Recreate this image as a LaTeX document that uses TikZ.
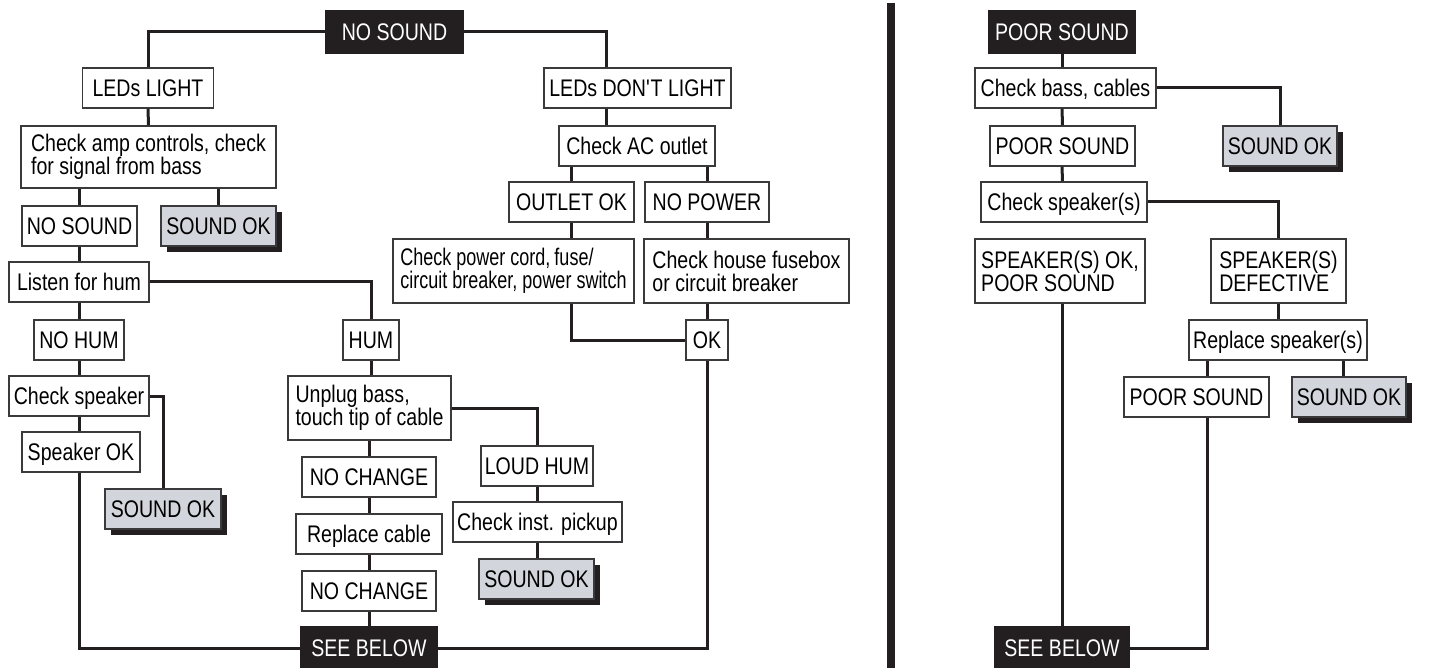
\documentclass[tikz,border=0pt]{standalone}
\usepackage{fontspec}
\setmainfont{Liberation Sans}[FakeStretch=0.815]
\newfontfamily\narrowfont{Liberation Sans}[FakeStretch=0.75]
\usetikzlibrary{shadows}
\definecolor{ink}{HTML}{231F20}
\definecolor{edge}{HTML}{3A3A3C}
\definecolor{okgray}{HTML}{D2D5DC}

\begin{document}
\begin{tikzpicture}[x=1pt, y=-1pt,
    base/.style={draw=edge, line width=1.5pt, inner sep=0pt, font=\fontsize{24}{23}\selectfont},
    box/.style={base, fill=white, minimum height=40pt, text height=17.2pt, text depth=0pt},
    tall/.style={base, fill=white, align=left, minimum height=64pt},
    dark/.style={box, fill=ink, draw=ink, text=white, minimum height=42pt},
    okbox/.style={box, fill=okgray, drop shadow={shadow xshift=6pt, shadow yshift=-6pt, fill=ink, opacity=1}},
    link/.style={line width=3pt, draw=ink}]
    \useasboundingbox (0, 0) rectangle (1429, 668);
                \node[dark, minimum width=137pt] (nosound) at (394.5, 32) {NO SOUND};
                \node[box, minimum width=131pt] (ledlight) at (148, 88) {LEDs LIGHT};
                \node[tall, minimum width=255pt, minimum height=62pt] (ampctl) at (148.5, 157) {Check amp controls, check\\for signal from bass};
                \node[box, minimum width=115pt] (nosound2) at (79.5, 226) {NO SOUND};
                \node[okbox, minimum width=115pt] (okamp) at (218.5, 226) {SOUND OK};
                \node[box, minimum width=140pt] (listen) at (79, 282) {Listen for hum};
                \node[box, minimum width=90pt] (nohum) at (79, 340) {NO HUM};
                \node[box, minimum width=56pt] (hum) at (371, 340) {HUM};
                \node[box, minimum width=140pt] (chkspk) at (79, 396) {Check speaker};
                \node[box, minimum width=118pt] (spkok) at (81, 452) {Speaker OK};
                \node[okbox, minimum width=116pt] (okspk) at (163, 509) {SOUND OK};
                \node[tall, minimum width=163pt] (unplug) at (369.5, 408) {Unplug bass,\\touch tip of cable};
                \node[box, minimum width=134pt] (nochange) at (369, 477) {NO CHANGE};
                \node[box, minimum width=146pt] (replcable) at (369, 534) {Replace cable};
                \node[box, minimum width=134pt] (nochange2) at (369, 591) {NO CHANGE};
                \node[dark, minimum width=136pt] (seebelow) at (369, 648) {SEE BELOW};
                \node[box, minimum width=112pt] (loudhum) at (537, 466) {LOUD HUM};
                \node[box, minimum width=169pt] (pickup) at (537.5, 522) {Check inst. pickup};
                \node[okbox, minimum width=115pt] (okpickup) at (536.5, 579) {SOUND OK};
                \node[box, minimum width=187pt] (leddark) at (637.5, 88) {LEDs DON\textquotesingle T LIGHT};
                \node[box, minimum width=156pt] (acoutlet) at (637, 146) {Check AC outlet};
                \node[box, minimum width=125pt] (outletok) at (571.5, 202) {OUTLET OK};
                \node[box, minimum width=124pt] (nopower) at (707, 202) {NO POWER};
                \node[tall, minimum width=241pt, font=\fontsize{24}{23}\narrowfont] (powercord) at (513.5, 271) {Check power cord,\,fuse/\\circuit breaker, power switch};
                \node[tall, minimum width=205pt] (fusebox) at (746.5, 271) {Check house fusebox\\or circuit breaker};
                \node[box, minimum width=42pt] (powerok) at (707, 340) {OK};
                \draw[link] (nosound.west) -| (ledlight.north);
                \draw[link] (nosound.east) -| ([xshift=-31.5pt]leddark.north);
                \draw[link] (ledlight.south) -- (ampctl.north);
                \draw[link] (ampctl.south -| nosound2) -- (nosound2.north);
                \draw[link] (ampctl.south -| okamp) -- (okamp.north);
                \draw[link] (nosound2.south) -- (nosound2.south |- listen.north);
                \draw[link] (listen.east) -| (hum.north);
                \draw[link] (listen.south) -- (nohum.north);
                \draw[link] (nohum.south) -- (chkspk.north);
                \draw[link] (chkspk.east) -| (okspk.north);
                \draw[link] (chkspk.south) -- (chkspk.south |- spkok.north);
                \draw[link] (chkspk.south |- spkok.south) |- (seebelow.west);
                \draw[link] (hum.south) -- (hum.south |- unplug.north);
                \draw[link] (unplug.south) -- (unplug.south |- nochange.north);
                \draw[link] (nochange.south) -- (replcable.north);
                \draw[link] (replcable.south) -- (nochange2.north);
                \draw[link] (nochange2.south) -- (seebelow.north);
                \draw[link] (unplug.east) -| (loudhum.north);
                \draw[link] (loudhum.south) -- (loudhum.south |- pickup.north);
                \draw[link] (pickup.south) -- (pickup.south |- okpickup.north);
                \draw[link] ([xshift=-31.5pt]leddark.south) -- ([xshift=-31.5pt]leddark.south |- acoutlet.north);
                \draw[link] (acoutlet.south -| outletok) -- (outletok.north);
                \draw[link] (acoutlet.south -| nopower) -- (nopower.north);
                \draw[link] (outletok.south) -- (outletok.south |- powercord.north);
                \draw[link] (nopower.south) -- (nopower.south |- fusebox.north);
                \draw[link] (powercord.south -| outletok) |- (powerok.west);
                \draw[link] (fusebox.south -| powerok) -- (powerok.north);
                \draw[link] (powerok.south) |- (seebelow.east);
                \draw[line width=8pt, ink] (891, 3) -- (891, 668);
                \node[dark, minimum width=146pt] (poor) at (1062, 32) {POOR SOUND};
                \node[box, minimum width=181pt] (chkbass) at (1065.5, 88) {Check bass, cables};
                \node[okbox, minimum width=114pt] (okbass) at (1280, 146) {SOUND OK};
                \node[box, minimum width=145pt] (poor2) at (1062.5, 146) {POOR SOUND};
                \node[box, minimum width=166pt] (chkspks) at (1064, 202) {Check speaker(s)};
                \node[tall, minimum width=170pt] (spksok) at (1060, 271) {SPEAKER(S) OK,\\POOR SOUND};
                \node[tall, minimum width=135pt] (spksdef) at (1278.5, 271) {SPEAKER(S)\\DEFECTIVE};
                \node[box, minimum width=178pt] (replspk) at (1278, 340) {Replace speaker(s)};
                \node[box, minimum width=145pt] (poor3) at (1196.5, 397) {POOR SOUND};
                \node[okbox, minimum width=114pt] (okrepl) at (1349, 397) {SOUND OK};
                \node[dark, minimum width=134pt] (seebelow2) at (1062, 648) {SEE BELOW};
                \draw[link] (poor.south) -- (poor.south |- chkbass.north);
                \draw[link] (chkbass.east) -| (okbass.north);
                \draw[link] (chkbass.south -| poor) -- (poor2.north);
                \draw[link] (poor2.south -| poor) -- (poor2.south |- chkspks.north);
                \draw[link] (chkspks.south -| poor) -- (chkspks.south -| poor |- spksok.north);
                \draw[link] (chkspks.east) -| (spksdef.north);
                \draw[link] (spksdef.south) -- (spksdef.south |- replspk.north);
                \draw[link] ([xshift=10.5pt]poor3.north) -- ([xshift=10.5pt]poor3.north |- replspk.south);
                \draw[link] ([xshift=-6pt]okrepl.north) -- ([xshift=-6pt]okrepl.north |- replspk.south);
                \draw[link] (spksok.south -| poor) -- (seebelow2.north);
                \draw[link] ([xshift=10.5pt]poor3.south) |- (seebelow2.east);
            \end{tikzpicture}
\end{document}
